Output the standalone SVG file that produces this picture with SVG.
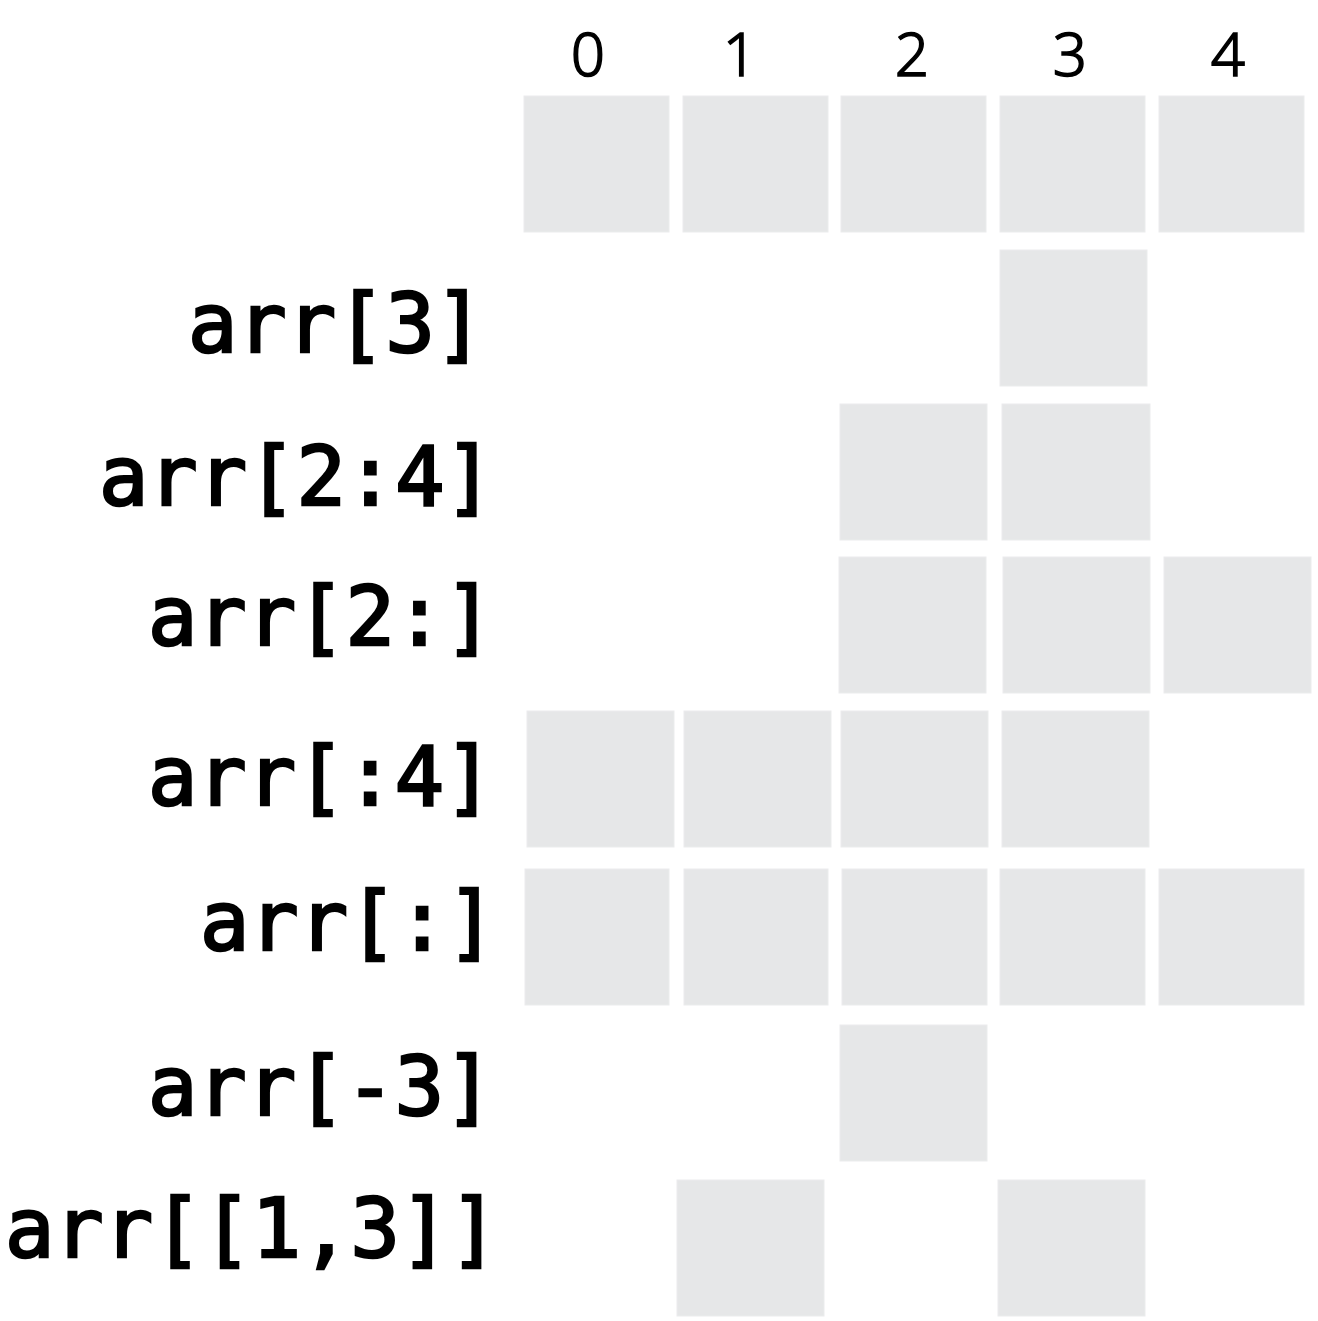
<svg xmlns="http://www.w3.org/2000/svg" width="1318" height="1321" viewBox="0 0 1318 1321">
<style>
.c{fill:#e6e7e8;stroke:#ebeced;stroke-width:1}
.l{font-family:"DejaVu Sans Mono","Liberation Mono",monospace;font-size:82px;fill:#000;stroke:#000;stroke-width:2.6}
.i{font-family:"Noto Sans","DejaVu Sans",sans-serif;font-size:60px;font-weight:300;fill:#000;stroke:#000;stroke-width:1.5;text-anchor:middle}
</style>
<rect width="1318" height="1321" fill="#fff"/>
<g id="indices">
<text class="i" x="588" y="76">0</text>
<text class="i" x="740" y="76">1</text>
<text class="i" x="912" y="76">2</text>
<text class="i" x="1070" y="76">3</text>
<text class="i" x="1228" y="76">4</text>
</g>
<g id="array">
<rect class="c" x="524" y="96" width="145" height="136"/>
<rect class="c" x="683" y="96" width="145" height="136"/>
<rect class="c" x="841" y="96" width="145" height="136"/>
<rect class="c" x="1000" y="96" width="145" height="136"/>
<rect class="c" x="1159" y="96" width="145" height="136"/>
</g>
<g id="row-arr3">
<text class="l" x="188" y="352">arr[3]</text>
<rect class="c" x="1000" y="250" width="147" height="136"/>
</g>
<g id="row-arr2-4">
<text class="l" x="99" y="505">arr[2:4]</text>
<rect class="c" x="840" y="404" width="147" height="136"/>
<rect class="c" x="1002" y="404" width="148" height="136"/>
</g>
<g id="row-arr2-">
<text class="l" x="148" y="645">arr[2:]</text>
<rect class="c" x="839" y="557" width="147" height="136"/>
<rect class="c" x="1003" y="557" width="147" height="136"/>
<rect class="c" x="1164" y="557" width="147" height="136"/>
</g>
<g id="row-arr-4">
<text class="l" x="148" y="805">arr[:4]</text>
<rect class="c" x="527" y="711" width="147" height="136"/>
<rect class="c" x="684" y="711" width="147" height="136"/>
<rect class="c" x="841" y="711" width="147" height="136"/>
<rect class="c" x="1002" y="711" width="147" height="136"/>
</g>
<g id="row-arr-all">
<text class="l" x="200" y="950">arr[:]</text>
<rect class="c" x="525" y="869" width="144" height="136"/>
<rect class="c" x="684" y="869" width="144" height="136"/>
<rect class="c" x="842" y="869" width="145" height="136"/>
<rect class="c" x="1000" y="869" width="145" height="136"/>
<rect class="c" x="1159" y="869" width="145" height="136"/>
</g>
<g id="row-arr-neg3">
<text class="l" x="148" y="1115">arr[-3]</text>
<rect class="c" x="840" y="1025" width="147" height="136"/>
</g>
<g id="row-arr-fancy">
<text class="l" x="5" y="1257">arr[[1,3]]</text>
<rect class="c" x="677" y="1180" width="147" height="136"/>
<rect class="c" x="998" y="1180" width="147" height="136"/>
</g>
<g id="connectors"/>
</svg>
